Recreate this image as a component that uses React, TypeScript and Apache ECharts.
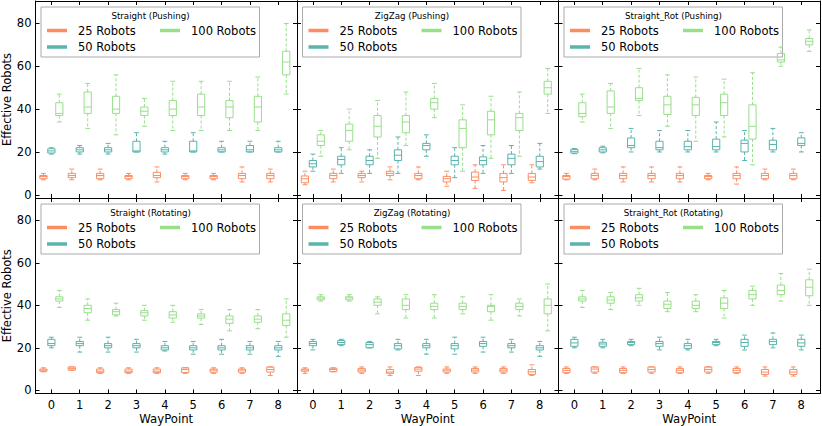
import React, { useEffect, useRef } from 'react';
import * as echarts from 'echarts';

// ---------- data ----------
const waypoints = [0, 1, 2, 3, 4, 5, 6, 7, 8];
const robotLabels = ['25 Robots', '50 Robots', '100 Robots'];
const robotColors = ['#fc8d62', '#5ab4ac', '#98df8a'];
const robotOffsets = [-0.28, 0, 0.28];
const panelTitles = [
  'Straight (Pushing)', 'ZigZag (Pushing)', 'Straight_Rot (Pushing)',
  'Straight (Rotating)', 'ZigZag (Rotating)', 'Straight_Rot (Rotating)',
];
const xAxisName = 'WayPoint';
const yAxisName = 'Effective Robots';

// each entry: [min, Q1, median, Q3, max]
const straightPush25 = [[7, 7.5, 8.5, 9, 10], [7, 8, 9, 10, 12], [7, 7.5, 9, 10, 12], [7, 7.5, 8.5, 9, 10], [6, 8, 9, 10.5, 13], [7, 7.5, 8.5, 9, 10], [7, 7.5, 8.5, 9, 10], [6, 7.5, 9, 10, 13], [6, 7.5, 9, 10, 12]];
const straightPush50 = [[19, 19.5, 20.5, 21.5, 22], [19, 20, 21, 22, 23], [19, 20, 21, 22, 24], [20, 20, 20.5, 25, 29], [19, 20, 21, 22, 25], [20, 20, 20.5, 25, 29], [20, 20, 21, 22, 25], [20, 20, 21, 23, 25], [20, 20, 21, 22, 25]];
const straightPush100 = [[34, 37, 38, 43, 47], [31, 38, 41, 48, 52], [28, 38, 40, 46, 56], [32, 37, 39, 41, 45], [30, 37, 40, 44, 53], [30, 37, 41, 47, 53], [30, 36, 41, 44, 53], [30, 34, 41, 46, 55], [47, 56, 62, 67, 80]];

const zigzagPush25 = [[4.7, 5.6, 7.5, 8.8, 11], [6, 7.5, 9, 10, 12], [6, 8, 9, 10, 11], [7, 9, 10, 11, 13], [7, 7.5, 9, 10, 13], [4, 6, 7.5, 8.6, 11], [3, 6.7, 8.3, 10.6, 14], [2, 6, 8, 10, 14], [5.6, 6.7, 8.3, 10, 14]];
const zigzagPush50 = [[11, 13, 14.5, 16, 19], [10, 14, 16.5, 18, 22], [10, 14, 16, 18, 21], [10, 16, 18.5, 21, 27], [18, 21, 23, 24, 28], [8, 14, 16, 18, 22], [10, 14, 16, 17.7, 23], [10, 14, 17, 19, 23], [12, 13, 15.5, 18, 24]];
const zigzagPush100 = [[18, 23, 25, 28, 30], [21, 25, 30, 33, 40], [17, 27, 32, 37, 44], [23, 29, 34, 37, 48], [36, 40, 43, 45, 52], [11, 22, 31, 35, 42], [17, 28, 35, 39, 46], [18, 30, 36, 38, 48], [38, 47, 50, 53, 59]];

const straightRotPush25 = [[7, 7.3, 8.5, 9, 10], [7, 7.5, 9, 10, 12], [6, 7.5, 9, 10, 13], [6, 7.5, 9, 10, 13], [6, 7.5, 9, 10, 13], [7, 7.5, 8.5, 9, 10], [5, 7.5, 9, 10, 13], [7, 7.5, 9, 10, 12], [7, 7.5, 9, 10, 12]];
const straightRotPush50 = [[19.2, 19.5, 20.3, 21.2, 21.6], [19.6, 20, 21, 22, 22.7], [20, 22, 23, 26.5, 31], [20, 21, 22, 25, 30], [20, 21, 22.5, 25, 30], [20, 21, 22.5, 26, 34], [16, 20, 24, 25.5, 30], [20, 21, 23.5, 25.5, 31], [20, 23, 24, 26.6, 29]];
const straightRotPush100 = [[34, 36.5, 38, 43, 47], [31, 38, 41, 48.5, 52], [37, 44, 45, 50, 59], [32, 37.5, 42, 46, 56], [25, 37, 42, 45.5, 55], [27, 37, 43, 47, 54], [14, 26, 32, 42, 57], [60, 62, 63, 66, 69], [67, 70, 71.7, 73, 77]];

const straightRot25 = [[8.7, 9, 9.5, 10, 10.6], [9.4, 9.5, 10.2, 11, 11], [8, 8.3, 9, 10, 10.6], [8, 8.3, 9, 10, 10.6], [8, 8.3, 9, 10, 10.6], [8, 8.3, 9.8, 10.6, 10.6], [8, 8.5, 9.5, 10, 10.6], [8, 8.5, 9.5, 10, 10.6], [7, 8.6, 9.8, 11, 11]];
const straightRot50 = [[20, 21, 22, 24, 25], [18, 21, 22, 23, 25], [18, 20, 21, 22, 25], [18, 20, 21, 22, 24], [18.5, 19, 20, 21, 23], [17, 19, 20, 21, 23], [17, 19, 20, 21, 24], [17, 19, 20, 21, 23], [16, 19, 20, 21, 23]];
const straightRot100 = [[39, 42, 43, 44, 47], [33, 36.5, 38.5, 40, 43], [35, 35.5, 37, 38, 41], [33, 35, 36.5, 37.5, 40], [32, 34, 35.5, 37, 40], [31, 34, 35, 36, 38], [28, 31.5, 33.5, 35, 38], [29, 32, 33.5, 35, 38], [25, 30.5, 33, 36, 43]];

const zigzagRot25 = [[8, 9, 9.6, 10, 10.6], [8.7, 8.8, 9.8, 10.4, 10.6], [8, 8.6, 9.5, 10.3, 11], [7, 8, 8.6, 9.8, 11], [7, 9, 10, 10.8, 11], [8, 8.6, 9.5, 10, 11], [8, 8.6, 9.5, 10.3, 11], [8, 8.6, 9.5, 10.3, 11], [7, 7.5, 8.7, 9.8, 12]];
const zigzagRot50 = [[19, 21, 22, 23, 24], [21, 21.5, 22.5, 23.4, 24], [20, 20, 21.5, 22.5, 23], [19, 19.5, 21, 22, 24], [17, 20, 21, 22, 24], [17, 19.5, 21, 22, 25], [18, 20.7, 22, 23, 25], [18, 20, 21, 22, 24], [16, 19, 20, 21, 23]];
const zigzagRot100 = [[42, 42.6, 43.4, 44, 45], [42, 42.6, 43.5, 44, 45], [36, 40, 41.5, 43, 44], [34, 38, 40, 43, 45], [34, 38, 39.5, 41, 45], [36, 38, 39.5, 41, 44], [33, 37, 39.5, 40, 45], [35, 38, 39.5, 41, 43], [28, 36, 40, 43, 50]];

const straightRotRot25 = [[8, 8.3, 9.4, 10.3, 11], [8, 8.6, 10, 11, 11], [8, 8.3, 9.4, 10.3, 11], [8, 8.6, 9.8, 11, 11], [8, 8.3, 9.4, 10.3, 11], [8, 8.6, 9.8, 11, 11], [8, 8.3, 9.4, 10.3, 11], [6.7, 7.5, 8.6, 9.8, 11], [6.7, 7.5, 8.6, 9.8, 11]];
const straightRotRot50 = [[20, 20.7, 22.3, 24, 25], [20, 20.7, 21.8, 22.6, 24], [21, 21.5, 22.5, 23, 24], [19, 20.7, 22, 23, 25], [19, 19.7, 21, 22, 24], [21, 21.5, 22.5, 23, 24], [19, 20.7, 22.5, 24, 26], [20, 21.5, 23, 24, 27], [19, 20.7, 22.3, 24, 26]];
const straightRotRot100 = [[39, 42, 43, 44, 47], [38, 41, 42.5, 44, 46], [40, 42, 43.5, 45, 48], [37, 38.5, 40.5, 42, 46], [37, 38.5, 40, 42, 45], [34, 38.5, 41, 43.5, 47], [40, 43, 45, 47, 49], [42, 45, 47, 49.5, 55], [40, 44.5, 48.5, 52, 57]];

const panelData = [
  [straightPush25, straightPush50, straightPush100],
  [zigzagPush25, zigzagPush50, zigzagPush100],
  [straightRotPush25, straightRotPush50, straightRotPush100],
  [straightRot25, straightRot50, straightRot100],
  [zigzagRot25, zigzagRot50, zigzagRot100],
  [straightRotRot25, straightRotRot50, straightRotRot100],
];

// ---------- layout ----------
const FONT = 'DejaVu Sans';
const colLefts = [35.5, 297, 558.5];
const colWidth = 261.5;
const rowTops = [1, 198];
const rowHeights = [197, 195.5];
const X_MIN = -0.56;
const X_MAX = 8.66;
const Y_MIN = -1.5;
const Y_MAX = 90.5;

function makeRenderItem(color: string) {
  return (params: any, api: any) => {
    const x = api.value(0);
    const p = (v: number) => api.coord([x, v]);
    const [cx, yMin] = p(api.value(1));
    const yQ1 = p(api.value(2))[1];
    const yMed = p(api.value(3))[1];
    const yQ3 = p(api.value(4))[1];
    const yMax = p(api.value(5))[1];
    const hw = 3.6;
    const cw = 2.4;
    const solid = { stroke: color, lineWidth: 1, fill: 'transparent' };
    const dashed = { stroke: color, lineWidth: 1, lineDash: [3, 2] };
    return {
      type: 'group',
      children: [
        { type: 'line', shape: { x1: cx, y1: yQ1, x2: cx, y2: yMin }, style: dashed },
        { type: 'line', shape: { x1: cx, y1: yQ3, x2: cx, y2: yMax }, style: dashed },
        { type: 'line', shape: { x1: cx - cw, y1: yMin, x2: cx + cw, y2: yMin }, style: solid },
        { type: 'line', shape: { x1: cx - cw, y1: yMax, x2: cx + cw, y2: yMax }, style: solid },
        { type: 'rect', shape: { x: cx - hw, y: yQ3, width: 2 * hw, height: Math.max(yQ1 - yQ3, 0.5) }, style: solid },
        { type: 'line', shape: { x1: cx - hw, y1: yMed, x2: cx + hw, y2: yMed }, style: solid },
      ],
    };
  };
}

function buildOption() {
  const grid: any[] = [];
  const xAxis: any[] = [];
  const yAxis: any[] = [];
  const series: any[] = [];
  const graphic: any[] = [];

  const lineStyle = { color: '#000', width: 1 };
  const tick = { show: true, inside: true, length: 4, lineStyle: { color: '#000', width: 1 } };
  const labelStyle = { color: '#000', fontSize: 11.5, fontFamily: FONT };

  for (let g = 0; g < 6; g++) {
    const row = Math.floor(g / 3);
    const col = g % 3;
    const left = colLefts[col];
    const top = rowTops[row];
    grid.push({ left, top, width: colWidth, height: rowHeights[row], containLabel: false, outerBoundsMode: 'none' });

    const xBase = {
      type: 'value', gridIndex: g, min: X_MIN, max: X_MAX, minInterval: 1, maxInterval: 1, splitNumber: 9,
      axisLine: { show: true, onZero: false, lineStyle }, axisTick: tick, splitLine: { show: false },
    };
    xAxis.push({
      ...xBase, position: 'bottom',
      axisLabel: {
        show: row === 1, margin: 5, ...labelStyle,
        showMinLabel: true, showMaxLabel: true,
        formatter: (v: number) => (Math.abs(v - Math.round(v)) < 1e-6 ? String(Math.round(v)) : ''),
      },
      name: row === 1 ? xAxisName : '', nameLocation: 'middle', nameGap: 19,
      nameTextStyle: { color: '#000', fontSize: 11.7, fontFamily: FONT },
    });
    xAxis.push({ ...xBase, position: 'top', axisLabel: { show: false } });

    const yBase = {
      type: 'value', gridIndex: g, min: Y_MIN, max: Y_MAX, minInterval: 20, maxInterval: 20, splitNumber: 5,
      axisLine: { show: true, onZero: false, lineStyle }, axisTick: tick, splitLine: { show: false },
    };
    yAxis.push({
      ...yBase, position: 'left',
      axisLabel: {
        show: col === 0, margin: 4, ...labelStyle,
        formatter: (v: number) => (Math.abs(v / 20 - Math.round(v / 20)) < 1e-6 ? String(Math.round(v)) : ''),
      },
      name: col === 0 ? yAxisName : '', nameLocation: 'middle', nameGap: 21,
      nameTextStyle: { color: '#000', fontSize: 11.5, fontFamily: FONT },
    });
    yAxis.push({ ...yBase, position: 'right', axisLabel: { show: false } });

    for (let r = 0; r < 3; r++) {
      const arr = panelData[g][r];
      series.push({
        type: 'custom',
        name: robotLabels[r],
        xAxisIndex: 2 * g,
        yAxisIndex: 2 * g,
        renderItem: makeRenderItem(robotColors[r]),
        encode: { x: 0, y: [1, 2, 3, 4, 5] },
        data: arr.map((q, i) => [waypoints[i] + robotOffsets[r], ...q]),
        z: 2,
        silent: true,
      });
    }

    // legend box
    const lx = left + 5.5;
    const ly = top + 6;
    const entries = [
      { r: 0, x: 6, y: 23.5 },
      { r: 2, x: 119, y: 23.5 },
      { r: 1, x: 6, y: 40 },
    ];
    const children: any[] = [
      { type: 'rect', shape: { x: 0, y: 0, width: 218.5, height: 50 }, style: { fill: '#fff', stroke: '#aaaaaa', lineWidth: 1 } },
      {
        type: 'text', x: 109.5, y: 8.5,
        style: { text: panelTitles[g], fill: '#000', font: `8.7px "${FONT}"`, textAlign: 'center', textVerticalAlign: 'middle' },
      },
    ];
    entries.forEach((e) => {
      children.push({
        type: 'line', shape: { x1: e.x, y1: e.y, x2: e.x + 20, y2: e.y },
        style: { stroke: robotColors[e.r], lineWidth: 3.5 },
      });
      children.push({
        type: 'text', x: e.x + 31, y: e.y,
        style: { text: robotLabels[e.r], fill: '#000', font: `11.5px "${FONT}"`, textAlign: 'left', textVerticalAlign: 'middle' },
      });
    });
    graphic.push({ type: 'group', x: lx, y: ly, z: 100, children });
  }

  return { animation: false, backgroundColor: '#fff', grid, xAxis, yAxis, series, graphic };
}

export default function App() {
  const ref = useRef<HTMLDivElement>(null);
  useEffect(() => {
    if (!ref.current) return;
    const chart = echarts.init(ref.current, null, { renderer: 'svg' });
    chart.setOption(buildOption() as any);
    return () => chart.dispose();
  }, []);
  return <div ref={ref} style={{ position: 'absolute', left: 0, top: 0, width: 822, height: 426 }} />;
}
